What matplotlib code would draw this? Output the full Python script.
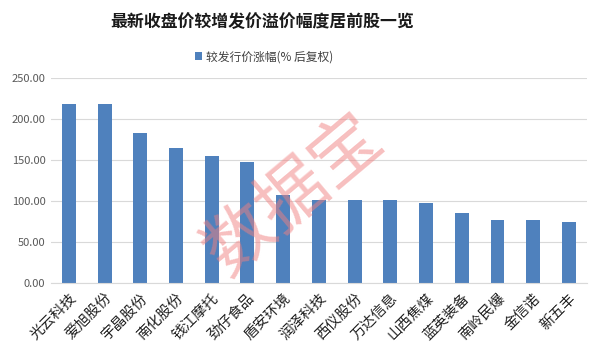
import matplotlib
matplotlib.use("Agg")
import matplotlib.pyplot as plt

plt.rcParams['font.family'] = ['Noto Sans CJK SC', 'DejaVu Sans']

categories = ["光云科技", "爱旭股份", "宇晶股份", "南化股份", "钱江摩托", "劲仔食品", "盾安环境",
              "润泽科技", "西仪股份", "万达信息", "山西焦煤", "蓝英装备", "南岭民爆", "金信诺", "新五丰"]
values = [218.2, 218.2, 182.8, 164.5, 154.7, 147.4, 107.1,
          101.0, 101.0, 101.0, 97.3, 85.0, 76.6, 76.6, 74.0]
yticks = [0, 50, 100, 150, 200, 250]
title = "最新收盘价较增发价溢价幅度居前股一览"
series_name = "较发行价涨幅(% 后复权)"

fig = plt.figure(figsize=(6, 3.55), dpi=100)
ax = fig.add_axes([0.085, 0.203, 0.893, 0.577])
x = list(range(len(categories)))
ax.bar(x, values, width=0.39, color="#4f81bd", label=series_name, zorder=2)
ax.set_xlim(-0.5, len(categories) - 0.5)
ax.set_ylim(0, 250)
ax.set_yticks(yticks)
ax.set_yticklabels([f"{v:.2f}" for v in yticks], fontsize=8, color="#595959")
ax.set_xticks(x)
ax.set_xticklabels(categories, rotation=45, ha="right", rotation_mode="anchor",
                   fontsize=10.5, color="#222222")
ax.tick_params(axis="both", length=0, pad=4)
ax.tick_params(axis="x", pad=6)
ax.grid(axis="y", color="#d9d9d9", linewidth=0.8, zorder=0)
for s in ["top", "right", "left"]:
    ax.spines[s].set_visible(False)
ax.spines["bottom"].set_color("#d9d9d9")

fig.text(0.437, 0.938, title, ha="center", va="center", fontsize=12.2, fontweight="bold", color="#1a1a1a")
leg = fig.legend(loc="center", bbox_to_anchor=(0.44, 0.84), frameon=False, fontsize=8.5,
                 handlelength=0.6, handleheight=0.6, handletextpad=0.3)
for t in leg.get_texts():
    t.set_color("#404040")

# watermark
fig.text(0.49, 0.45, "数据宝", ha="center", va="center", fontsize=50, rotation=40,
         color="#f08080", alpha=0.5, zorder=10)

fig.savefig("out.png", dpi=100)
